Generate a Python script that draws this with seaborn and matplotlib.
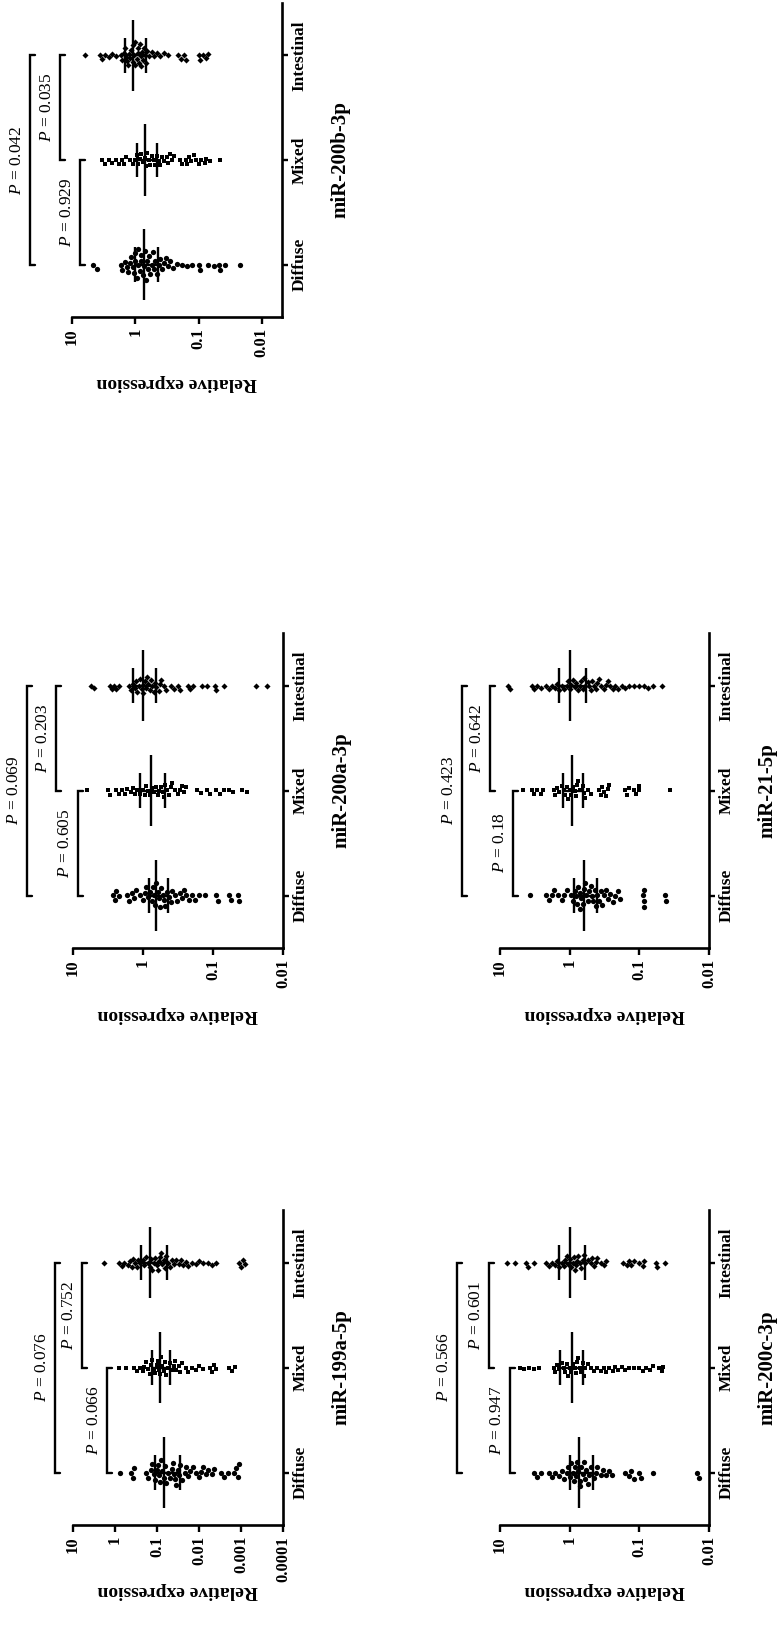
import numpy as np
import pandas as pd
import matplotlib
matplotlib.use("Agg")
import matplotlib.pyplot as plt
import matplotlib.transforms as mtransforms
from matplotlib.ticker import NullLocator
import seaborn as sns

sns.set_theme(style="white")
plt.rcParams['font.family'] = ['Liberation Serif', 'DejaVu Serif']
plt.rcParams['mathtext.fontset'] = 'custom'
plt.rcParams['mathtext.it'] = 'Liberation Serif:italic'
plt.rcParams['mathtext.rm'] = 'Liberation Serif'
plt.rcParams['mathtext.bf'] = 'Liberation Serif:bold'
plt.rcParams['text.color'] = 'black'
plt.rcParams['axes.labelcolor'] = 'black'
plt.rcParams['xtick.color'] = 'black'
plt.rcParams['ytick.color'] = 'black'

# ---------------- data ----------------
groups = ["Diffuse", "Mixed", "Intestinal"]
order = ["Intestinal", "Mixed", "Diffuse"]
markers = {"Diffuse": "o", "Mixed": "s", "Intestinal": "D"}

# miR-200b-3p
b200_diffuse = [4.6, 4.1, 1.7, 1.6, 1.45, 1.35, 1.3, 1.2, 1.15, 1.1, 1.05, 1.0, 1.0, 0.95, 0.9, 0.9,
                0.85, 0.8, 0.8, 0.75, 0.72, 0.7, 0.68, 0.65, 0.62, 0.6, 0.58, 0.55, 0.52, 0.5, 0.48,
                0.45, 0.42, 0.4, 0.38, 0.35, 0.33, 0.3, 0.28, 0.25, 0.22, 0.18, 0.15, 0.125, 0.1,
                0.095, 0.07, 0.058, 0.048, 0.045, 0.038, 0.022]
b200_mixed = [3.3, 3.0, 2.6, 2.3, 2.0, 1.8, 1.6, 1.5, 1.4, 1.2, 1.1, 1.0, 0.95, 0.9, 0.85, 0.8, 0.75,
              0.7, 0.68, 0.65, 0.6, 0.58, 0.55, 0.5, 0.48, 0.45, 0.42, 0.4, 0.38, 0.35, 0.32, 0.3,
              0.28, 0.26, 0.24, 0.2, 0.18, 0.16, 0.15, 0.14, 0.13, 0.12, 0.11, 0.1, 0.09, 0.08,
              0.075, 0.065, 0.046]
b200_intestinal = [6.2, 3.6, 3.3, 3.0, 2.6, 2.3, 2.0, 1.7, 1.6, 1.5, 1.45, 1.4, 1.35, 1.3, 1.25, 1.2,
                   1.15, 1.1, 1.1, 1.05, 1.0, 1.0, 0.95, 0.92, 0.9, 0.88, 0.85, 0.82, 0.8, 0.78, 0.75,
                   0.72, 0.7, 0.68, 0.65, 0.6, 0.55, 0.5, 0.45, 0.4, 0.35, 0.3, 0.21, 0.19, 0.17,
                   0.16, 0.1, 0.095, 0.085, 0.075, 0.072]
b200_mean = [0.72, 0.69, 1.09]
b200_sd_low = [0.43, 0.46, 0.67]
b200_sd_high = [1.0, 0.94, 1.47]

# miR-200a-3p
a200_diffuse = [2.7, 2.5, 2.4, 2.2, 1.7, 1.6, 1.45, 1.35, 1.25, 1.1, 1.0, 0.95, 0.9, 0.85, 0.8, 0.75,
                0.72, 0.7, 0.68, 0.65, 0.62, 0.6, 0.58, 0.55, 0.52, 0.5, 0.48, 0.45, 0.42, 0.4, 0.38,
                0.35, 0.33, 0.3, 0.28, 0.26, 0.24, 0.22, 0.2, 0.18, 0.16, 0.13, 0.09, 0.085, 0.06,
                0.055, 0.044, 0.042]
a200_mixed = [6.3, 3.2, 3.0, 2.4, 2.2, 2.0, 1.8, 1.7, 1.5, 1.4, 1.3, 1.2, 1.1, 1.0, 0.95, 0.9, 0.85,
              0.8, 0.75, 0.7, 0.65, 0.62, 0.6, 0.55, 0.52, 0.5, 0.48, 0.45, 0.42, 0.4, 0.38, 0.35,
              0.32, 0.3, 0.28, 0.26, 0.24, 0.17, 0.15, 0.12, 0.11, 0.09, 0.08, 0.07, 0.06, 0.052,
              0.038, 0.033]
a200_intestinal = [5.6, 5.0, 3.0, 2.8, 2.6, 2.4, 2.2, 1.6, 1.5, 1.4, 1.3, 1.25, 1.2, 1.15, 1.1, 1.05,
                   1.0, 1.0, 0.95, 0.9, 0.88, 0.85, 0.8, 0.78, 0.75, 0.7, 0.68, 0.65, 0.6, 0.58, 0.55,
                   0.5, 0.47, 0.4, 0.36, 0.32, 0.3, 0.23, 0.21, 0.19, 0.145, 0.12, 0.094, 0.09, 0.07,
                   0.024, 0.017]
a200_mean = [0.645, 0.78, 1.0]
a200_sd_low = [0.44, 0.49, 0.66]
a200_sd_high = [0.83, 1.12, 1.39]

# miR-21-5p
m21_diffuse = [3.7, 2.2, 2.0, 1.8, 1.7, 1.45, 1.3, 1.2, 1.1, 0.95, 0.9, 0.85, 0.8, 0.78, 0.75, 0.72,
               0.7, 0.68, 0.65, 0.62, 0.6, 0.58, 0.55, 0.52, 0.5, 0.48, 0.46, 0.44, 0.42, 0.4, 0.38,
               0.36, 0.34, 0.32, 0.3, 0.28, 0.26, 0.24, 0.22, 0.2, 0.19, 0.088, 0.087, 0.086, 0.085,
               0.043, 0.042]
m21_mixed = [4.6, 3.5, 3.2, 2.9, 2.6, 2.4, 1.7, 1.6, 1.5, 1.4, 1.3, 1.2, 1.15, 1.1, 1.05, 1.0, 0.95,
             0.9, 0.85, 0.8, 0.78, 0.75, 0.7, 0.65, 0.62, 0.6, 0.55, 0.5, 0.38, 0.36, 0.34, 0.32,
             0.3, 0.28, 0.27, 0.16, 0.15, 0.14, 0.12, 0.11, 0.1, 0.1, 0.036]
m21_intestinal = [7.8, 7.2, 3.5, 3.2, 2.9, 2.6, 2.2, 2.0, 1.8, 1.6, 1.5, 1.4, 1.3, 1.2, 1.1, 1.05, 1.0,
                  0.95, 0.9, 0.85, 0.8, 0.75, 0.7, 0.68, 0.65, 0.62, 0.6, 0.55, 0.52, 0.5, 0.48, 0.45,
                  0.42, 0.4, 0.38, 0.35, 0.32, 0.3, 0.28, 0.26, 0.24, 0.22, 0.2, 0.18, 0.16, 0.14,
                  0.12, 0.1, 0.085, 0.075, 0.064, 0.047]
m21_mean = [0.62, 0.93, 1.0]
m21_sd_low = [0.41, 0.64, 0.59]
m21_sd_high = [0.86, 1.26, 1.42]

# miR-199a-5p
a199_diffuse = [0.77, 0.42, 0.38, 0.35, 0.18, 0.16, 0.14, 0.13, 0.12, 0.11, 0.1, 0.095, 0.09, 0.085,
                0.08, 0.075, 0.07, 0.065, 0.06, 0.055, 0.05, 0.045, 0.042, 0.04, 0.038, 0.035, 0.032,
                0.03, 0.028, 0.025, 0.022, 0.02, 0.018, 0.016, 0.014, 0.012, 0.01, 0.009, 0.008,
                0.007, 0.006, 0.005, 0.0045, 0.003, 0.0025, 0.002, 0.0015, 0.0013, 0.0012, 0.0011]
a199_mixed = [0.8, 0.55, 0.35, 0.3, 0.26, 0.22, 0.2, 0.18, 0.16, 0.15, 0.14, 0.13, 0.12, 0.11, 0.1,
              0.095, 0.09, 0.085, 0.08, 0.075, 0.07, 0.065, 0.06, 0.055, 0.05, 0.045, 0.04, 0.038,
              0.035, 0.03, 0.028, 0.025, 0.02, 0.018, 0.015, 0.012, 0.01, 0.008, 0.0056, 0.005,
              0.0045, 0.004, 0.0019, 0.0016, 0.0014]
a199_intestinal = [1.8, 0.8, 0.7, 0.6, 0.5, 0.45, 0.4, 0.37, 0.33, 0.3, 0.28, 0.25, 0.22, 0.2, 0.18,
                   0.16, 0.15, 0.14, 0.13, 0.12, 0.11, 0.1, 0.095, 0.09, 0.085, 0.08, 0.075, 0.07,
                   0.065, 0.06, 0.055, 0.05, 0.045, 0.04, 0.035, 0.03, 0.027, 0.024, 0.02, 0.018,
                   0.015, 0.012, 0.01, 0.008, 0.006, 0.005, 0.004, 0.0011, 0.001, 0.0009, 0.0008]
a199_mean = [0.07, 0.085, 0.145]
a199_sd_low = [0.028, 0.05, 0.058]
a199_sd_high = [0.11, 0.135, 0.235]

# miR-200c-3p
c200_diffuse = [3.2, 2.9, 2.6, 2.0, 1.8, 1.6, 1.4, 1.3, 1.2, 1.1, 1.05, 1.0, 0.95, 0.9, 0.88, 0.85,
                0.8, 0.78, 0.75, 0.72, 0.7, 0.68, 0.65, 0.62, 0.6, 0.58, 0.55, 0.52, 0.5, 0.45, 0.42,
                0.4, 0.36, 0.33, 0.3, 0.27, 0.25, 0.16, 0.14, 0.13, 0.12, 0.1, 0.095, 0.063, 0.015,
                0.014]
c200_mixed = [5.2, 4.5, 3.8, 3.3, 2.8, 1.7, 1.6, 1.5, 1.4, 1.3, 1.2, 1.15, 1.1, 1.05, 1.0, 0.95, 0.9,
              0.85, 0.8, 0.78, 0.75, 0.7, 0.68, 0.65, 0.62, 0.6, 0.55, 0.5, 0.45, 0.4, 0.36, 0.32,
              0.3, 0.27, 0.24, 0.22, 0.2, 0.18, 0.16, 0.14, 0.12, 0.1, 0.09, 0.08, 0.07, 0.063,
              0.053, 0.048, 0.045]
c200_intestinal = [8.0, 6.0, 4.2, 4.0, 3.2, 2.2, 2.0, 1.8, 1.6, 1.5, 1.4, 1.3, 1.2, 1.15, 1.1, 1.05,
                   1.0, 0.95, 0.9, 0.88, 0.85, 0.8, 0.78, 0.75, 0.7, 0.68, 0.65, 0.62, 0.6, 0.55, 0.5,
                   0.48, 0.45, 0.42, 0.4, 0.36, 0.32, 0.3, 0.17, 0.15, 0.14, 0.13, 0.12, 0.1, 0.09,
                   0.085, 0.058, 0.055, 0.043]
c200_mean = [0.73, 0.93, 1.0]
c200_sd_low = [0.46, 0.64, 0.6]
c200_sd_high = [1.0, 1.39, 1.42]

titles = ["miR-200b-3p", "miR-200a-3p", "miR-21-5p", "miR-199a-5p", "miR-200c-3p"]
p_texts = [["0.929", "0.035", "0.042"],
           ["0.605", "0.203", "0.069"],
           ["0.18", "0.642", "0.423"],
           ["0.066", "0.752", "0.076"],
           ["0.947", "0.601", "0.566"]]
axis_low = [0.0048, 0.01, 0.01, 0.0001, 0.01]
tick_values = [[10, 1, 0.1, 0.01], [10, 1, 0.1, 0.01], [10, 1, 0.1, 0.01],
               [10, 1, 0.1, 0.01, 0.001, 0.0001], [10, 1, 0.1, 0.01]]
tick_labels = [["10", "1", "0.1", "0.01"], ["10", "1", "0.1", "0.01"], ["10", "1", "0.1", "0.01"],
               ["10", "1", "0.1", "0.01", "0.001", "0.0001"], ["10", "1", "0.1", "0.01"]]

panel_values = [
    (b200_diffuse, b200_mixed, b200_intestinal, b200_mean, b200_sd_low, b200_sd_high),
    (a200_diffuse, a200_mixed, a200_intestinal, a200_mean, a200_sd_low, a200_sd_high),
    (m21_diffuse, m21_mixed, m21_intestinal, m21_mean, m21_sd_low, m21_sd_high),
    (a199_diffuse, a199_mixed, a199_intestinal, a199_mean, a199_sd_low, a199_sd_high),
    (c200_diffuse, c200_mixed, c200_intestinal, c200_mean, c200_sd_low, c200_sd_high),
]

# ---------------- layout (pixels) ----------------
W, H = 778, 1630
rects_px = [(72, 3, 210, 314), (73, 633, 210, 315), (500, 633, 209, 315),
            (73, 1210, 210, 315), (500, 1210, 209, 315)]
# bracket x in axes fraction: (Mixed-Diffuse, Intestinal-Mixed, Intestinal-Diffuse)
bracket_x = [(0.038, -0.057, -0.20), (0.024, -0.079, -0.22), (0.06, -0.047, -0.18),
             (0.16, 0.043, -0.087), (0.047, -0.055, -0.205)]
marker_size = {"Diffuse": 3.8, "Mixed": 3.3, "Intestinal": 3.1}

fig = plt.figure(figsize=(W / 100, H / 100), dpi=100)
fig.patch.set_facecolor("white")

LW = 1.7
for k in range(5):
    l, t, w, h = rects_px[k]
    ax = fig.add_axes([l / W, (H - t - h) / H, w / W, h / H])
    ax.set_facecolor("white")
    dif, mix, inte, mean, lo, hi = panel_values[k]
    vals = {"Diffuse": dif, "Mixed": mix, "Intestinal": inte}
    ax.set_xscale("log")
    ax.set_xlim(10, axis_low[k])
    ax.set_ylim(2.5, -0.5)
    for g in groups:
        df = pd.DataFrame({"value": vals[g], "group": g})
        sns.swarmplot(data=df, x="value", y="group", order=order, orient="h",
                      marker=markers[g], color="black", size=marker_size[g], linewidth=0,
                      ax=ax, warn_thresh=1.0)
    ax.set_xscale("log")
    ax.set_xlim(10, axis_low[k])
    ax.set_ylim(2.5, -0.5)
    # mean and SD
    for i, g in enumerate(groups):
        pos = order.index(g)
        ax.plot([mean[i], mean[i]], [pos - 0.34, pos + 0.34], color="black", lw=LW, solid_capstyle="butt")
        ax.plot([lo[i], hi[i]], [pos, pos], color="black", lw=LW, solid_capstyle="butt")
        ax.plot([lo[i], lo[i]], [pos - 0.165, pos + 0.165], color="black", lw=LW, solid_capstyle="butt")
        ax.plot([hi[i], hi[i]], [pos - 0.165, pos + 0.165], color="black", lw=LW, solid_capstyle="butt")
    # brackets
    trans = mtransforms.blended_transform_factory(ax.transAxes, ax.transData)
    pairs = [("Mixed", "Diffuse"), ("Intestinal", "Mixed"), ("Intestinal", "Diffuse")]
    tk = 5.0 / w
    for j, (g1, g2) in enumerate(pairs):
        y1, y2 = order.index(g1), order.index(g2)
        xb = bracket_x[k][j]
        ax.plot([xb + tk, xb, xb, xb + tk], [y1, y1, y2, y2], color="black", lw=LW,
                transform=trans, clip_on=False, solid_joinstyle="miter")
        ax.text(xb - 5.0 / w, (y1 + y2) / 2, r"$\it{P}$" + " = " + p_texts[k][j], rotation=90,
                ha="right", va="center", transform=trans, fontsize=12.5, fontweight="normal")
    # axes styling
    ax.xaxis.set_minor_locator(NullLocator())
    ax.set_xticks(tick_values[k])
    ax.set_xticklabels(tick_labels[k], rotation=90, fontsize=12, fontweight="bold")
    ax.yaxis.set_ticks_position("right")
    ax.set_yticks([0, 1, 2])
    ax.set_yticklabels(order, rotation=90, va="center", ha="left", fontsize=12.5, fontweight="bold")
    ax.tick_params(axis="x", direction="out", length=5, width=LW, pad=3, bottom=True)
    ax.tick_params(axis="y", direction="out", length=4, width=LW, pad=3, right=True, left=False,
                   labelright=True, labelleft=False)
    for s in ["top", "left"]:
        ax.spines[s].set_visible(False)
    for s in ["bottom", "right"]:
        ax.spines[s].set_visible(True)
        ax.spines[s].set_linewidth(1.9)
        ax.spines[s].set_color("black")
    ax.set_xlabel("Relative expression", rotation=180, fontsize=14, fontweight="bold",
                  va="center", ha="center")
    ax.xaxis.set_label_coords(0.5, -66.0 / h)
    ax.yaxis.set_label_position("right")
    ax.set_ylabel(titles[k], rotation=90, fontsize=15, fontweight="bold", va="center", ha="center")
    ax.yaxis.set_label_coords(1.0 + 58.0 / w, 0.5)
    ax.grid(False)

fig.savefig("out.png", dpi=100, facecolor="white")
